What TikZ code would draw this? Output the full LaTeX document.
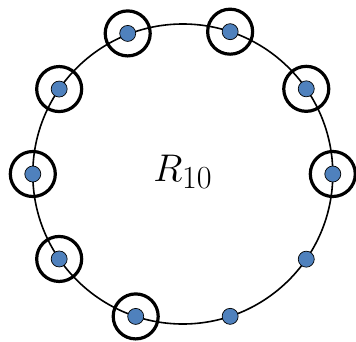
\documentclass[tikz,border=0pt]{standalone}
\usepackage{tikz}
\usetikzlibrary{positioning}
\definecolor{dotblue}{RGB}{79,129,189}
\tikzset{
  ringline/.style={draw=black, line width=1.6pt},
  dotnode/.style={circle, draw=black, line width=0.7pt, fill=dotblue,
    minimum size=16pt, inner sep=0pt},
  ringnode/.style={circle, draw=black, line width=3.2pt,
    minimum size=45pt, inner sep=0pt},
  ringlabel/.style={font=\Huge, scale=1.55},
}
\begin{document}
\begin{tikzpicture}
  \useasboundingbox (-182.8pt,-167pt) rectangle (173.2pt,174pt);

  % Ring of radius 150pt
  \node[circle, minimum size=300pt, inner sep=0pt] (ring) at (0,0) {};
  \draw[ringline] (ring.center) circle (150pt);

  % Label
  \node[ringlabel] (lbl) at (0,2pt) {$R_{10}$};

  % Points on the ring
  \node[dotnode] (p1) at (0:150pt) {};
  \node[dotnode] (p2) at (34.6:150pt) {};
  \node[dotnode] (p3) at (71.6:150pt) {};
  \node[dotnode] (p4) at (111.4:151pt) {};
  \node[dotnode] (p5) at (145.5:150pt) {};
  \node[dotnode] (p6) at (180:150pt) {};
  \node[dotnode] (p7) at (214.5:150pt) {};
  \node[dotnode] (p8) at (251.7:150pt) {};
  \node[dotnode] (p9) at (288.4:150pt) {};
  \node[dotnode] (p10) at (325.4:150pt) {};

  % Marked points
  \node[ringnode] (m1) at (p1) {};
  \node[ringnode] (m2) at (p2) {};
  \node[ringnode] (m3) at (p3) {};
  \node[ringnode] (m4) at (p4) {};
  \node[ringnode] (m5) at (p5) {};
  \node[ringnode] (m6) at (p6) {};
  \node[ringnode] (m7) at (p7) {};
  \node[ringnode] (m8) at (p8) {};
\end{tikzpicture}
\end{document}
